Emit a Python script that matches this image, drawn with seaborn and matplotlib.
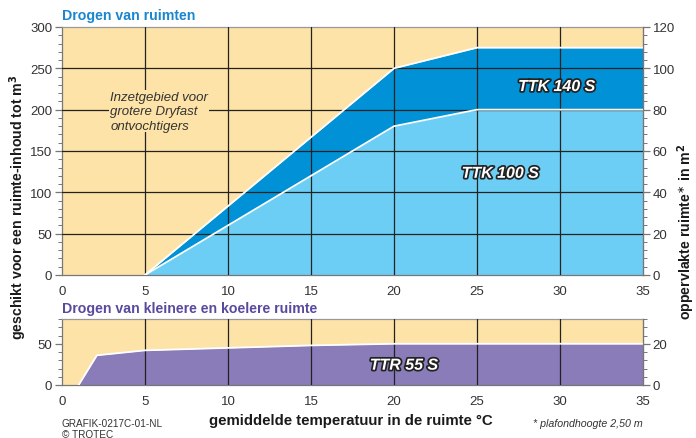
import matplotlib
matplotlib.use("Agg")
import matplotlib.pyplot as plt
import matplotlib.patheffects as pe
from matplotlib.ticker import MultipleLocator
import seaborn as sns
import pandas as pd

# ---- data ----
temp_140 = [5, 20, 25, 35]
vol_140 = [0, 250, 275, 275]
temp_100 = [5, 20, 25, 35]
vol_100 = [0, 180, 200, 200]
temp_55 = [1, 2.1, 5, 10, 15, 20, 35]
vol_55 = [0, 36, 42, 45, 48, 50, 50]

xticks = [0, 5, 10, 15, 20, 25, 30, 35]
top_left_ticks = [0, 50, 100, 150, 200, 250, 300]
top_right_ticks = [0, 20, 40, 60, 80, 100, 120]
bot_left_ticks = [0, 50]
bot_right_ticks = [0, 20]

sns.set_style("white")
FONT = ["Liberation Sans", "DejaVu Sans"]
plt.rcParams["font.family"] = FONT

BG = "#FDE3A7"
DARK = "#0091D6"
LIGHT = "#6CCEF4"
PURPLE = "#8A7BB9"
GRID = "#222222"
SPINE = "#777777"

fig = plt.figure(figsize=(6.96, 4.39), dpi=100)
ax1 = fig.add_axes([62/696, 1-276/439, 581/696, 248/439])
ax2 = fig.add_axes([62/696, 1-386/439, 581/696, 66/439])

def style(ax, ymax, yticks, rticks, rmax, yminor, rminor):
    ax.set_facecolor(BG)
    ax.set_xlim(0, 35)
    ax.set_ylim(0, ymax)
    ax.set_xticks(xticks)
    ax.set_yticks(yticks)
    ax.xaxis.set_minor_locator(MultipleLocator(1))
    ax.yaxis.set_minor_locator(MultipleLocator(yminor))
    ax.tick_params(axis="both", which="major", direction="out", length=5, width=0.9,
                   color=SPINE, labelsize=9.5, labelcolor="#333333", pad=2)
    ax.tick_params(axis="both", which="minor", direction="out", length=3, width=0.7, color=SPINE)
    for s in ax.spines.values():
        s.set_color(SPINE)
        s.set_linewidth(0.9)
    ax.spines["top"].set_visible(True)
    ax.spines["top"].set_color("#999999")
    for x in xticks[1:-1]:
        ax.axvline(x, color=GRID, lw=0.9, zorder=3)
    for y in yticks[1:-1]:
        ax.axhline(y, color=GRID, lw=0.9, zorder=3)
    axr = ax.twinx()
    axr.set_ylim(0, rmax)
    axr.set_yticks(rticks)
    axr.yaxis.set_minor_locator(MultipleLocator(rminor))
    axr.tick_params(axis="y", which="major", direction="out", length=5, width=0.9,
                    color=SPINE, labelsize=9.5, labelcolor="#333333", pad=2)
    axr.tick_params(axis="y", which="minor", direction="out", length=3, width=0.7, color=SPINE)
    for s in axr.spines.values():
        s.set_visible(False)
    axr.spines["right"].set_visible(True)
    axr.spines["right"].set_color(SPINE)
    return axr

ax1r = style(ax1, 300, top_left_ticks, top_right_ticks, 120, 10, 4)
ax2r = style(ax2, 80, bot_left_ticks, bot_right_ticks, 32, 10, 4)

# top fills
ax1.fill_between(temp_140, 0, vol_140, color=DARK, lw=0, zorder=1)
ax1.fill_between(temp_100, 0, vol_100, color=LIGHT, lw=0, zorder=2)
df140 = pd.DataFrame({"t": temp_140, "v": vol_140})
df100 = pd.DataFrame({"t": temp_100, "v": vol_100})
sns.lineplot(data=df140, x="t", y="v", ax=ax1, color="white", lw=1.3, zorder=4, sort=False)
sns.lineplot(data=df100, x="t", y="v", ax=ax1, color="white", lw=1.3, zorder=4, sort=False)

# bottom fill
ax2.fill_between(temp_55, 0, vol_55, color=PURPLE, lw=0, zorder=1)
df55 = pd.DataFrame({"t": temp_55, "v": vol_55})
sns.lineplot(data=df55, x="t", y="v", ax=ax2, color="white", lw=1.3, zorder=4, sort=False)

for ax in (ax1, ax2):
    ax.set_xlabel("")
    ax.set_ylabel("")
    ax.set_xlim(0, 35)

outline = [pe.withStroke(linewidth=2.5, foreground="#222222")]
lblkw = dict(color="white", fontsize=11.5, fontweight="bold", fontstyle="italic",
             ha="center", va="center", zorder=6, path_effects=outline)
ax1.text(29.8, 228, "TTK 140 S", **lblkw)
ax1.text(26.4, 123, "TTK 100 S", **lblkw)
ax2.text(20.6, 24, "TTR 55 S", **lblkw)

ax1.text(2.9, 198, "Inzetgebied voor\ngrotere Dryfast\nontvochtigers", fontsize=9.5,
         fontstyle="italic", color="#333333", ha="left", va="center", zorder=6,
         linespacing=1.25,
         bbox=dict(facecolor=BG, edgecolor="none", pad=0.5))

fig.text(62/696, 1-16/439, "Drogen van ruimten", color="#1A86CF", fontsize=10.2,
         fontweight="bold", ha="left", va="center")
fig.text(62/696, 1-309/439, "Drogen van kleinere en koelere ruimte", color="#5A4A9E",
         fontsize=10.2, fontweight="bold", ha="left", va="center")

fig.text(18/696, 1-207/439, "geschikt voor een ruimte-inhoud tot m$^\\mathbf{3}$", rotation=90,
         fontsize=10.2, fontweight="bold", ha="center", va="center", color="#1a1a1a")
fig.text(686/696, 1-232/439, "oppervlakte ruimte$^{\\ast}$ in m$^\\mathbf{2}$", rotation=90,
         fontsize=10.2, fontweight="bold", ha="center", va="center", color="#1a1a1a")
fig.text(351/696, 1-421/439, "gemiddelde temperatuur in de ruimte °C", fontsize=10.8,
         fontweight="bold", ha="center", va="center", color="#1a1a1a")
fig.text(62/696, 1-424/439, "GRAFIK-0217C-01-NL", fontsize=7.2, ha="left", va="center",
         color="#333333")
fig.text(62/696, 1-435/439, "© TROTEC", fontsize=7.2, ha="left", va="center", color="#333333")
fig.text(643/696, 1-424/439, "* plafondhoogte 2,50 m", fontsize=7.7, fontstyle="italic",
         ha="right", va="center", color="#333333")

fig.savefig("out.png", dpi=100)
